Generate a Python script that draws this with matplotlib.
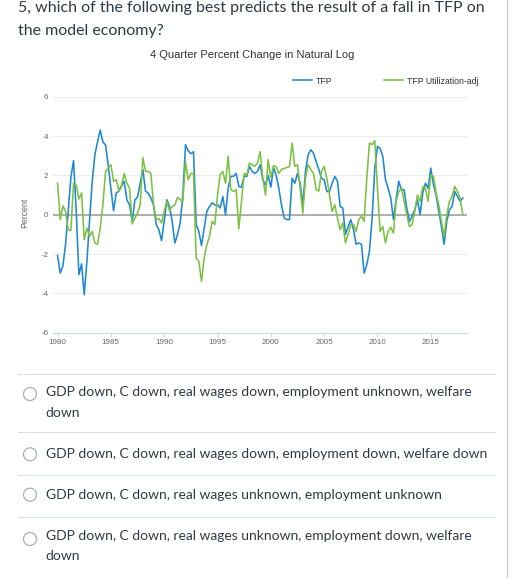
import numpy as np
import matplotlib
matplotlib.use("Agg")
import matplotlib.pyplot as plt
from matplotlib.patches import Circle

# quarterly data, 1980Q1 .. 2018Q1
quarters = np.arange(1980, 2018.01, 0.25)

tfp = [-2.07, -2.97, -2.6, -1.5, 0.17, 1.9, 2.75, 0.17, -3.05, -2.5,
       -4.07, -2.4, -0.3, 1.7, 3.05, 3.7, 4.3, 3.7, 3.55, 2.5,
       1.35, 0.2, 1.1, 1.2, 1.45, 1.7, 0.75, 0.5, -0.35, 0.75,
       0.9, 1.6, 2.3, 1.2, 1.1, 0.85, 0.5,
       -0.5, -0.76, -1.32, -0.34, 0.76, 0.42, -0.34, -1.44, -1.0, -0.42,
       1.0, 3.56, 3.25, 3.1, 3.2, -0.5, -0.85, -1.56, -0.68, 0.17,
       0.42, 0.6, 0.5, 0.5, 0.34, 0.93, 0.0, 1.35, 1.95, 1.95,
       2.1, 1.44, 1.4, 1.95, 1.95, 2.46, 2.2, 2.1, 2.2, 2.54,
       1.78,
       1.5, 2.0, 1.4, 2.4, 2.0, 1.35, 0.5, -0.17, -0.25, -0.25,
       1.86, 1.6, 2.1, 1.6, 0.5, 2.2, 3.05, 3.3, 3.13, 2.7,
       2.3, 1.86, 1.78, 1.18, 1.18, 1.6, 1.95, 1.7, 0.42, 0.34,
       -1.0, -0.6, -0.25, -0.76, -1.5, -1.44, -1.5,
       -2.97, -2.54, -1.86, -0.17, 2.37, 3.47, 3.36, 2.97, 1.78, 1.35,
       0.85, -0.25, 0.76, 1.7, 1.27, 1.27, 0.34, -0.34, -0.08, 0.25,
       0.76, 0.0, 1.1, 1.6, 1.35, 2.37, 1.52, 1.0, 0.17, -0.6,
       -1.5, -0.34, 0.25, 0.42, 1.18, 0.93, 0.68, 0.85]

tfp_util = [1.6, -0.25, 0.45, 0.17, -0.76, -0.8, 1.6, 1.5, 0.8, 1.1,
            -1.27, -0.68, -1.1, -0.85, -1.44, -1.5, -0.68, 0.5, 2.2, 2.37,
            2.54, 1.7, 1.78, 1.2, 1.5, 2.1, 1.6, 1.35, -0.47, -0.17,
            0.08, 0.5, 2.9, 2.2, 2.2, 2.1, 0.5,
            -0.25, -0.2, -0.42, 0.17, 0.68, 0.2, 0.42, 0.5, 0.88, 0.76,
            0.68, 2.7, 1.78, 2.1, 2.1, -2.2, -2.37, -3.39, -2.2, -1.52,
            -1.1, -0.34, -0.5, 1.0, 2.03, 2.2, 1.6, 2.97, 1.27, 1.18,
            1.27, -0.71, 0.68, 2.1, 2.03, 2.63, 2.54, 2.46, 2.63, 3.2,
            1.86,
            1.0, 2.8, 1.9, 2.5, 2.45, 2.1, 2.3, 2.35, 2.4, 2.45,
            3.64, 2.46, 2.54, 1.35, 0.08, 1.86, 2.54, 2.3, 2.1, 1.27,
            1.2, 2.2, 2.46, 1.86, 1.0, 0.17, 0.5, -0.17, -0.76, -0.42,
            -1.44, -1.0, -0.5, -0.5, -0.85, -0.25, -0.08,
            -0.34, 1.86, 3.64, 3.56, 3.76, 1.35, -0.85, -0.6, -1.44, -0.85,
            -0.64, -0.93, 0.68, 1.18, 1.35, 0.68, 0.0, -0.6, -0.5, 0.17,
            1.0, 0.68, 1.44, 1.35, 0.68, 2.03, 1.95, 1.1, 0.5, -0.34,
            -1.1, 0.0, 0.68, 0.93, 1.44, 1.18, 0.85, 0.0]

series_names = ["TFP", "TFP Utilization-adj"]
series_colors = ["#1f88d0", "#7dc143"]
y_ticks = [-6, -4, -2, 0, 2, 4, 6]
x_ticks = [1980, 1985, 1990, 1995, 2000, 2005, 2010, 2015]

question = ["5, which of the following best predicts the result of a fall in TFP on",
            "the model economy?"]
answers = [["GDP down, C down, real wages down, employment unknown, welfare", "down"],
           ["GDP down, C down, real wages down, employment down, welfare down"],
           ["GDP down, C down, real wages unknown, employment unknown"],
           ["GDP down, C down, real wages unknown, employment down, welfare", "down"]]

W, H = 518, 578
fig = plt.figure(figsize=(W / 100, H / 100), dpi=100)

# page layer in pixel coords
page = fig.add_axes([0, 0, 1, 1])
page.set_xlim(0, W)
page.set_ylim(H, 0)
page.axis("off")

txt = "#2d3b45"
page.text(18, 8, question[0], fontsize=11.5, family="Lato", color=txt, va="center")
page.text(18, 31, question[1], fontsize=11.5, family="Lato", color=txt, va="center")

page.plot([507, 507], [0, H], color="#c7cdd1", lw=0.9)

sep_y = [373.5, 432, 475, 516.5]
for y in sep_y:
    page.plot([18, 495], [y, y], color="#dadde0", lw=0.8)

circle_y = [394, 454.3, 494.7, 539]
line_y = [[392.3, 413.3], [454], [494.7], [536.3, 556.3]]
for cy, ly, lines in zip(circle_y, line_y, answers):
    page.add_patch(Circle((30, cy), 6.5, facecolor="white", edgecolor="#a9aeb2", lw=0.9))
    for yy, s in zip(ly, lines):
        page.text(45.7, yy, s, fontsize=10.0, family="Lato", color=txt, va="center")

# chart
ax = fig.add_axes([53.3 / W, 1 - 332.7 / H, (466.7 - 53.3) / W, (332.7 - 96.7) / H])
ax.set_facecolor("none")
ax.plot(quarters, tfp, color=series_colors[0], lw=1.15, label=series_names[0], zorder=3)
ax.plot(quarters, tfp_util, color=series_colors[1], lw=1.15, label=series_names[1], zorder=3)
ax.axhline(0, color="#9b9b9b", lw=1.1, zorder=2)

ax.set_xlim(1979.6, 2018.37)
ax.set_ylim(-6, 6)
ax.set_yticks(y_ticks)
ax.set_xticks(x_ticks)
ax.set_yticklabels([str(v) for v in y_ticks])
ax.grid(axis="y", color="#ececec", lw=0.7)
ax.set_axisbelow(True)
for s in ["left", "right", "top"]:
    ax.spines[s].set_visible(False)
ax.spines["bottom"].set_color("#ccd6eb")
ax.spines["bottom"].set_linewidth(0.8)
ax.tick_params(axis="y", length=0, pad=3.5, labelsize=5.8, labelcolor="#666666")
ax.tick_params(axis="x", length=3, width=0.7, color="#ccd6eb", pad=1.2,
               labelsize=5.8, labelcolor="#666666")
for lab in ax.get_xticklabels() + ax.get_yticklabels():
    lab.set_family("Liberation Sans")

page.text(25, 213, "Percent", rotation=90, fontsize=6.3, family="Liberation Sans",
          color="#666666", ha="center", va="center")
page.text(252, 55, "4 Quarter Percent Change in Natural Log", fontsize=8,
          family="Liberation Sans", color="#333333", ha="center", va="center")

leg = ax.legend(loc="center left", bbox_to_anchor=(293 / W, 1 - 81 / H),
                bbox_transform=fig.transFigure, ncol=2, frameon=False,
                prop={"family": "Liberation Sans", "size": 6.3},
                handlelength=2.2, handletextpad=0.4, columnspacing=5.9,
                borderpad=0, borderaxespad=0)
for t in leg.get_texts():
    t.set_color("#333333")

fig.savefig("out.png", dpi=100)
